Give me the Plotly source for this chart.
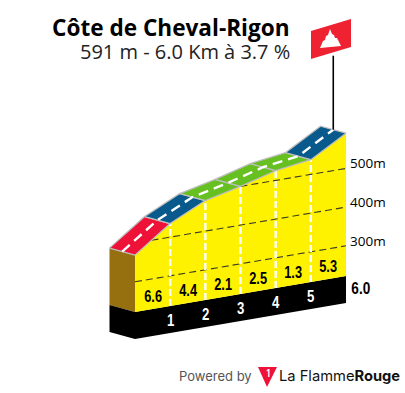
import numpy as np
import plotly.graph_objects as go

# ---------- data ----------
km = [0, 1, 2, 3, 4, 5, 6]
altitude = [369, 435, 479, 500, 525, 538, 591]
gradient = [6.6, 4.4, 2.1, 2.5, 1.3, 5.3]
km_labels = ["1", "2", "3", "4", "5"]
grid_levels = [300, 400, 500]
total_label = "6.0"
title = "Côte de Cheval-Rigon"
subtitle = "591 m - 6.0 Km à 3.7 %"

# ---------- projection / layout constants ----------
W, H = 405, 393
PX_PER_KM = 35.17
PX_PER_M = 0.387
X0_PX = 135.0
BASE_PX = 312.0
BASE_ALT = 222
TILT_PX = 6.0
DEPTH_DX, DEPTH_DY = -25.5, -7.0
SOCLE_PX = 27.0

xr = [-X0_PX / PX_PER_KM, (W - X0_PX) / PX_PER_KM]
yr = [BASE_ALT - (H - BASE_PX) / PX_PER_M, BASE_ALT + BASE_PX / PX_PER_M]


def proj(k, a, depth=0.0, drop_px=0.0):
    """km, altitude -> oblique axis coordinates. depth 0 = front edge, 1 = back edge"""
    k = np.asarray(k, float)
    a = np.asarray(a, float)
    x = k + depth * DEPTH_DX / PX_PER_KM
    y = a + k * TILT_PX / PX_PER_M - depth * DEPTH_DY / PX_PER_M - drop_px / PX_PER_M
    return x, y


def road_colour(g):
    if g >= 6:
        return "#ee1238"
    if g >= 3:
        return "#085a8c"
    return "#66c020"


def poly(xs, ys, fill, line=None, lw=0):
    return go.Scatter(x=list(xs), y=list(ys), mode="lines", fill="toself", fillcolor=fill,
                      line=dict(color=line or fill, width=lw), hoverinfo="skip", showlegend=False)


def dashed(xs, ys, colour, width, dash):
    return go.Scatter(x=list(xs), y=list(ys), mode="lines",
                      line=dict(color=colour, width=width, dash=dash), hoverinfo="skip", showlegend=False)


fig = go.Figure()
k0, k1 = km[0], km[-1]
a0 = altitude[0]

# left brown flank
xa, ya = proj([k0, k0], [a0, BASE_ALT], 1)
xb, yb = proj([k0, k0], [BASE_ALT, a0], 0)
fig.add_trace(poly(np.r_[xa, xb], np.r_[ya, yb], "#96700e"))

# black socle: side, front
xa, ya = proj([k0, k0], [BASE_ALT, BASE_ALT], 1, np.array([0, SOCLE_PX]))
xb, yb = proj([k0, k0], [BASE_ALT, BASE_ALT], 0, np.array([SOCLE_PX, 0]))
fig.add_trace(poly(np.r_[xa, xb], np.r_[ya, yb], "#000000"))
xa, ya = proj([k0, k1], [BASE_ALT, BASE_ALT])
xb, yb = proj([k1, k0], [BASE_ALT, BASE_ALT], 0, SOCLE_PX)
fig.add_trace(poly(np.r_[xa, xb], np.r_[ya, yb], "#000000"))

# yellow front face
xa, ya = proj(km, altitude)
xb, yb = proj([k1, k0], [BASE_ALT, BASE_ALT])
fig.add_trace(poly(np.r_[xa, xb], np.r_[ya, yb], "#fff200"))

# altitude grid
for lev in grid_levels:
    start = float(np.interp(lev, altitude, km)) if lev > a0 else k0
    gx, gy = proj([start, k1], [lev, lev])
    fig.add_trace(dashed(gx, gy, "#3c3c28", 1.1, "7px,4px"))

# km ticks
for k, a in zip(km[1:-1], altitude[1:-1]):
    gx, gy = proj([k, k], [BASE_ALT, a])
    fig.add_trace(dashed(gx, gy, "#ffffff", 2.4, "7px,3px"))

# road segments
for i, g in enumerate(gradient):
    kk = km[i:i + 2]
    aa = altitude[i:i + 2]
    xa, ya = proj(kk, aa)
    xb, yb = proj(kk[::-1], aa[::-1], 1)
    fig.add_trace(poly(np.r_[xa, xb, xa[0]], np.r_[ya, yb, ya[0]], road_colour(g), "#bdbdbd", 1.3))

# centre line
cx, cy = proj(km, altitude, 0.5)
fig.add_trace(dashed(cx, cy, "#ffffff", 2.4, "10px,6px"))

# flag pole
top_x, top_y = proj([k1], [altitude[-1]], 0.5)
POLE_LEN_PX = 74
fig.add_trace(go.Scatter(x=[top_x[0], top_x[0]], y=[top_y[0], top_y[0] + POLE_LEN_PX / PX_PER_M],
                         mode="lines", line=dict(color="#000000", width=1.6),
                         hoverinfo="skip", showlegend=False))


def p(pts):
    s = " ".join(("M" if i == 0 else "L") + f"{x / W:.5f},{1 - y / H:.5f}" for i, (x, y) in enumerate(pts))
    return s + " Z"


def shape(pts, colour):
    return dict(type="path", xref="paper", yref="paper", path=p(pts), fillcolor=colour,
                line=dict(width=0), layer="above")


shapes = [
    shape([(311, 31), (351, 19), (351, 47), (311, 59)], "#ee2230"),
    shape([(320, 48), (323, 41), (325, 40), (326, 36), (328, 35), (330, 29), (332, 34), (334, 35),
           (335, 38), (337, 38), (341, 46)], "#ffffff"),
    shape([(258, 367), (277, 367), (267, 387)], "#ee1238"),
]


def note(x, y, text, size, colour, family, bold=False, anchor="center"):
    fig.add_annotation(xref="paper", yref="paper", x=x / W, y=1 - y / H, text=f"<b>{text}</b>" if bold else text,
                       showarrow=False, xanchor=anchor, yanchor="middle", borderpad=0,
                       font=dict(size=size, color=colour, family=family))


NARROW = "Liberation Sans"
# gradient labels (mid-segment, just above the socle)
for i, g in enumerate(gradient):
    x, y = proj([km[i] + 0.5], [BASE_ALT])
    fig.add_annotation(x=x[0], y=y[0], yshift=13, text=f"<b>{g}</b>", showarrow=False,
                       font=dict(size=16, color="#000000", family=NARROW))
# km labels on the socle
for k, lab in zip(km[1:-1], km_labels):
    x, y = proj([k], [BASE_ALT])
    fig.add_annotation(x=x[0], y=y[0], yshift=-14, text=f"<b>{lab}</b>", showarrow=False,
                       font=dict(size=16.5, color="#ffffff", family=NARROW))
# altitude labels
for lev in grid_levels:
    x, y = proj([k1], [lev])
    fig.add_annotation(x=x[0], y=y[0], xshift=3, yshift=5, text=f"{lev}m", showarrow=False, xanchor="left",
                       borderpad=0, font=dict(size=13.5, color="#000000", family="Open Sans"))
x, y = proj([k1], [BASE_ALT])
fig.add_annotation(x=x[0], y=y[0], xshift=2, yshift=-12, text=f"<b>{total_label}</b>", showarrow=False, xanchor="left",
                   borderpad=0, font=dict(size=17, color="#000000", family=NARROW))

note(290.5, 27, title, 22.6, "#000000", "Open Sans", True, "right")
note(290.5, 52, subtitle, 20, "#222222", "Open Sans", False, "right")
note(177.5, 376, "Powered by", 13, "#555555", "Inter", False, "left")
note(278, 376, "La Flamme<b>Rouge</b>", 14.7, "#111111", "Inter", False, "left")
note(267.5, 373, "1", 10, "#ffffff", "Inter", True)

fig.update_layout(width=W, height=H, margin=dict(l=0, r=0, t=0, b=0),
                  paper_bgcolor="#ffffff", plot_bgcolor="#ffffff", showlegend=False, shapes=shapes,
                  xaxis=dict(range=xr, visible=False, fixedrange=True),
                  yaxis=dict(range=yr, visible=False, fixedrange=True))
squeeze = """
document.body.style.margin='0';
document.querySelectorAll('.annotation-text').forEach(function(t){
  if(/^\\d(\\.\\d)?$/.test(t.textContent)){
    t.style.transformBox='fill-box';t.style.transformOrigin='center';t.style.transform='scaleX(0.8)';
  }
});
"""
fig.write_html("out.html", config={"displayModeBar": False}, post_script=squeeze)
